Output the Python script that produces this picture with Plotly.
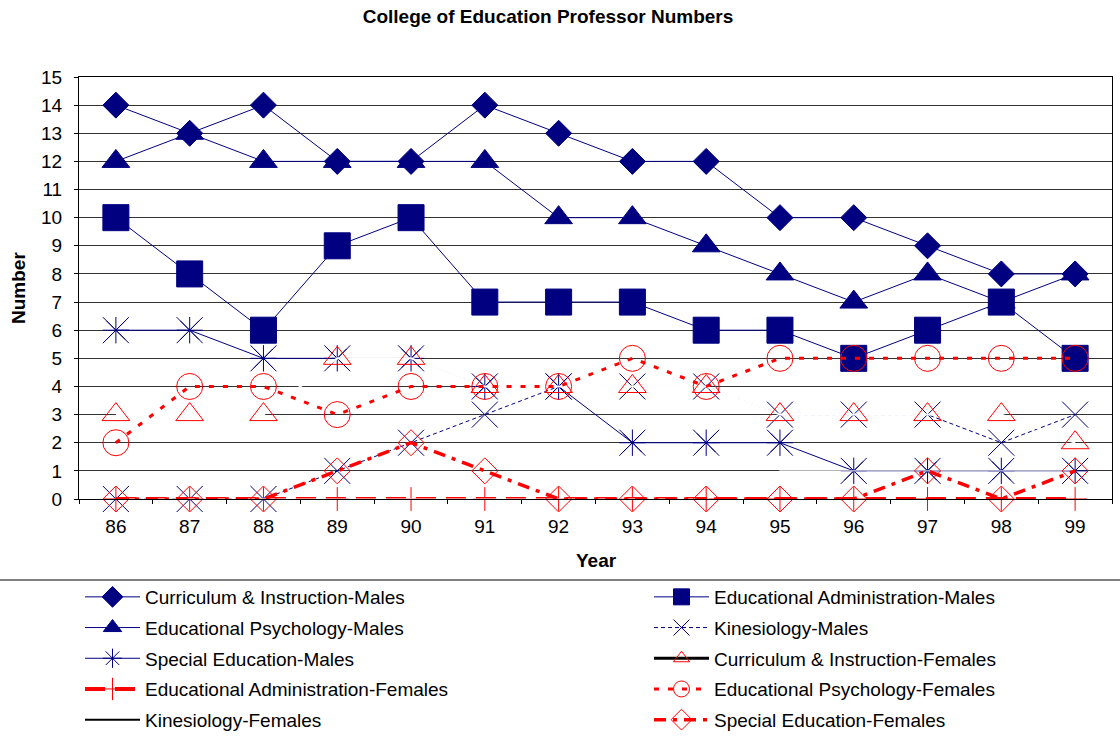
import plotly.graph_objects as go

years = ["86", "87", "88", "89", "90", "91", "92", "93", "94", "95", "96", "97", "98", "99"]

ci_males = [14, 13, 14, 12, 12, 14, 13, 12, 12, 10, 10, 9, 8, 8]
ea_males = [10, 8, 6, 9, 10, 7, 7, 7, 6, 6, 5, 6, 7, 5]
ep_males = [12, 13, 12, 12, 12, 12, 10, 10, 9, 8, 7, 8, 7, 8]
kin_males = [0, 0, 0, 1, 2, 3, 4, 4, 4, 3, 3, 3, 2, 3]
se_males = [6, 6, 5, 5, 5, 4, 4, 2, 2, 2, 1, 1, 1, 1]
ci_females = [3, 3, 3, 5, 5, 4, 4, 4, 4, 3, 3, 3, 3, 2]
ea_females = [0, 0, 0, 0, 0, 0, 0, 0, 0, 0, 0, 0, 0, 0]
ep_females = [2, 4, 4, 3, 4, 4, 4, 5, 4, 5, 5, 5, 5, 5]
kin_females = [0, 0, 0, 0, 0, 0, 0, 0, 0, 1, 1, 1, 1, 1]
se_females = [0, 0, 0, 1, 2, 1, 0, 0, 0, 0, 0, 1, 0, 1]

NAVY = "#000080"
RED = "#FF0000"
FONT = "Liberation Sans, Arial, sans-serif"
FS = 19

W, H = 1120, 736
L, R, T, B = 79, 8, 77, 237
PW = W - L - R
PH = H - T - B


def px_x(p):
    return (p - L) / PW


def px_y(p):
    return (H - B - p) / PH


fig = go.Figure()


def add(name, y, legend, color, width, dash, symbol, size,
        mcolor=None, show=True, group=None):
    # open symbols take their outline colour from marker.color
    mcolor = mcolor or color
    fig.add_trace(go.Scatter(
        x=years, y=y, name=name, mode="lines+markers" if symbol else "lines",
        legend=legend, legendgroup=group or name, showlegend=show,
        cliponaxis=False,
        line=dict(color=color, width=width, dash=dash),
        marker=dict(symbol=symbol or "circle", size=size, color=mcolor,
                    line=dict(color=mcolor, width=1)),
    ))


def legend_only(name, legend, lcolor, lwidth, symbol, mcolor, size):
    fig.add_trace(go.Scatter(
        x=[None], y=[None], name=name, legend=legend, legendgroup=name,
        mode="lines+markers" if symbol else "lines",
        line=dict(color=lcolor, width=lwidth),
        marker=dict(symbol=symbol or "circle", size=size, color=mcolor,
                    line=dict(color=mcolor, width=1)),
    ))


add("Curriculum & Instruction-Males", ci_males, "legend", NAVY, 1, "solid",
    "diamond", 20)
add("Educational Administration-Males", ea_males, "legend2", NAVY, 1, "solid",
    "square", 26)
add("Educational Psychology-Males", ep_males, "legend", NAVY, 1, "solid",
    "triangle-up", 24)
add("Kinesiology-Males", kin_males, "legend2", NAVY, 1, "4px,3px",
    "x-thin-open", 26)
add("Special Education-Males", se_males, "legend", NAVY, 1, "solid",
    "asterisk-open", 22)
fig.add_trace(go.Scatter(
    x=years, y=se_males, mode="markers", showlegend=False, cliponaxis=False,
    marker=dict(symbol="x-thin-open", size=26, color=NAVY,
                line=dict(color=NAVY, width=1)),
))

# female C&I and kinesiology lines are white in the plot but black in the key
add("Curriculum & Instruction-Females", ci_females, "legend2", "white", 2,
    "solid", "triangle-up-open", 24, mcolor=RED, show=False, group="cif")
legend_only("Curriculum & Instruction-Females", "legend2", "black", 3,
            "triangle-up-open", RED, 14)
add("Educational Administration-Females", ea_females, "legend", RED, 4,
    "20px,10px", "cross-thin-open", 17)
add("Educational Psychology-Females", ep_females, "legend2", RED, 3,
    "5px,9px", "circle-open", 26)
add("Kinesiology-Females", kin_females, "legend", "white", 1, "solid",
    None, 0, show=False, group="kinf")
legend_only("Kinesiology-Females", "legend", "black", 2, None, "black", 1)
add("Special Education-Females", se_females, "legend2", RED, 3.5,
    "12px,7px,4px,7px", "diamond-open", 20)

legend_common = dict(
    orientation="v", xanchor="left", yanchor="top", y=px_y(578),
    font=dict(family=FONT, size=FS, color="black"),
    bgcolor="rgba(0,0,0,0)", itemwidth=55, tracegroupgap=3,
    itemclick=False, itemdoubleclick=False,
)

fig.update_layout(
    width=W, height=H, autosize=False,
    margin=dict(l=L, r=R, t=T, b=B, autoexpand=False),
    paper_bgcolor="white", plot_bgcolor="white",
    font=dict(family=FONT, size=FS, color="black"),
    title=dict(text="<b>College of Education Professor Numbers</b>",
               x=548 / W, xref="container", xanchor="center",
               y=1 - 16 / H, yref="container", yanchor="middle",
               font=dict(family=FONT, size=FS, color="black")),
    legend=dict(x=px_x(80), **legend_common),
    legend2=dict(x=px_x(649), **legend_common),
    xaxis=dict(type="category", categoryorder="array", categoryarray=years,
               range=[-0.5, len(years) - 0.5],
               tickson="boundaries", ticks="outside", ticklabelstandoff=10,
               ticklen=4, tickcolor="black", showline=True, linecolor="black",
               linewidth=1, mirror=True, showgrid=False, automargin=False,
               tickfont=dict(family=FONT, size=FS)),
    yaxis=dict(range=[0, 15], dtick=1, ticks="outside", ticklen=4,
               ticklabelstandoff=8,
               tickcolor="black", showline=True, linecolor="black",
               linewidth=1, mirror=True, showgrid=True, gridcolor="#333333",
               gridwidth=1, zeroline=False, automargin=False,
               tickfont=dict(family=FONT, size=FS)),
    shapes=[dict(type="line", xref="paper", yref="paper",
                 x0=px_x(0), x1=px_x(W), y0=px_y(580), y1=px_y(580),
                 line=dict(color="#555555", width=1.5))],
    annotations=[
        dict(text="<b>Number</b>", xref="paper", yref="paper",
             x=px_x(18), y=px_y(288), textangle=-90, showarrow=False,
             xanchor="center", yanchor="middle",
             font=dict(family=FONT, size=FS)),
        dict(text="<b>Year</b>", xref="paper", yref="paper",
             x=px_x(596), y=px_y(560), showarrow=False,
             xanchor="center", yanchor="middle",
             font=dict(family=FONT, size=FS)),
    ],
)

fig.write_html(
    "out.html",
    config={"responsive": False, "displayModeBar": False},
    default_width=f"{W}px", default_height=f"{H}px",
    post_script="document.body.style.margin='0';"
                "document.body.style.overflow='hidden';",
)
